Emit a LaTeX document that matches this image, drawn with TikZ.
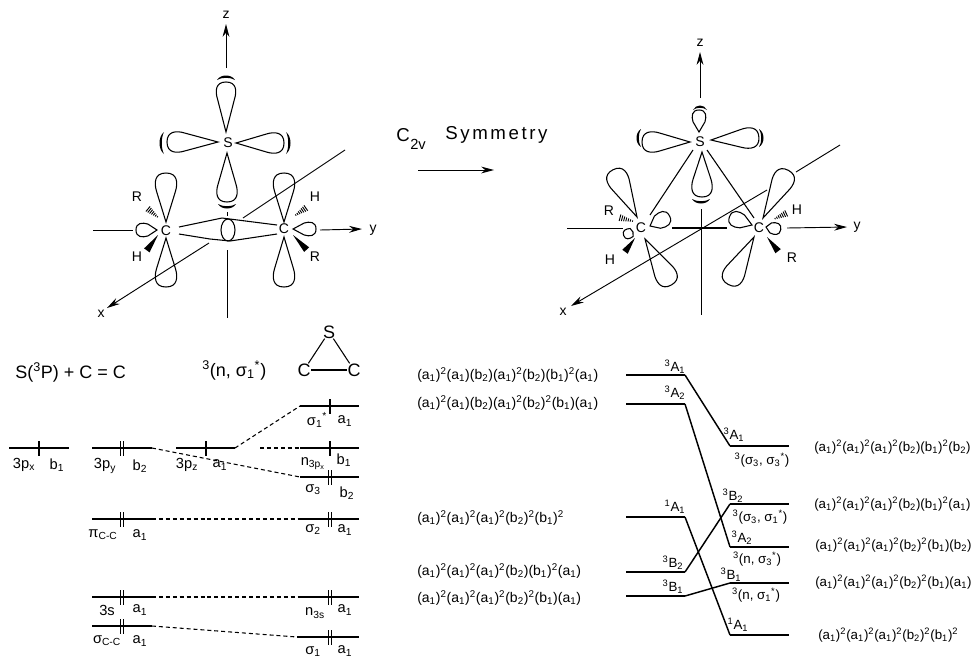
\documentclass[tikz,border=0pt]{standalone}
\usepackage{fontspec}
\setmainfont{Liberation Sans}
\newfontfamily\widefont[LetterSpace=14]{Liberation Sans}
\usetikzlibrary{arrows.meta, calc}

\newcommand{\lo}[1]{\textsubscript{#1}}
\newcommand{\hi}[1]{\textsuperscript{#1}}
% at, angle, length, half width
\newcommand{\lobe}[4]{\draw[orbital, shift={#1}, rotate=#2] (0,0) -- ({#3-1.7*#4},{.85*#4})
  .. controls ({#3-.9*#4},{1.1*#4}) and (#3,{1.05*#4}) .. (#3,0)
  .. controls (#3,{-1.05*#4}) and ({#3-.9*#4},{-1.1*#4}) .. ({#3-1.7*#4},{-.85*#4}) -- cycle;}
% at, angle, half width
\newcommand{\lobecap}[3]{\fill[shift={#1}, rotate=#2] (-2,#3) .. controls (4,{.6*#3}) and (4,{-.6*#3}) .. (-2,-#3)
  .. controls (1,{-.5*#3}) and (1,{.5*#3}) .. cycle;}
% at, angle, length
\newcommand{\solidbond}[3]{\fill[shift={#1}, rotate=#2] (0,0) -- (#3,3.4) -- (#3,-3.4) -- cycle;}
\newcommand{\hashbond}[3]{\foreach \t in {.2,.32,...,1.01}{\draw[line width=.7pt, shift={#1}, rotate=#2] ({\t*#3},{-\t*3.6}) -- ({\t*#3},{\t*3.6});}}
% name, x1, x2, y
\newcommand{\level}[4]{\coordinate (#1-l) at (#2,#4); \coordinate (#1-r) at (#3,#4); \draw[levelline] (#1-l) -- (#1-r);}
\newcommand{\spinone}[2]{\draw[line width=.9pt] (#1,#2-7) -- (#1,#2+8);}
\newcommand{\spintwo}[2]{\spinone{#1-1.7}{#2}\spinone{#1+1.7}{#2}}

\tikzset{
  orbital/.style={line width=.8pt},
  axisline/.style={line width=.7pt},
  tipped/.style={axisline, -{Stealth[length=3.4mm, width=1.8mm]}},
  levelline/.style={line width=1.4pt},
  corrline/.style={line width=1.1pt},
  dashlink/.style={line width=.8pt, dashed, dash pattern=on 3pt off 2.2pt},
  atomlab/.style={inner sep=0pt, font=\fontsize{10.5}{11}\selectfont},
  orblab/.style={inner sep=0pt, font=\fontsize{11}{12}\selectfont},
  cfglab/.style={inner sep=0pt, anchor=west, font=\fontsize{10.5}{12}\selectfont},
  cfgright/.style={cfglab, font=\fontsize{10}{12}\selectfont},
  statelab/.style={inner sep=0pt, font=\fontsize{10}{11}\selectfont},
  titlelab/.style={inner sep=0pt, font=\fontsize{13.5}{15}\selectfont},
}

\begin{document}
\begin{tikzpicture}[x=.75pt, y=-.75pt, >=Stealth]
\useasboundingbox (0,0) rectangle (973,658);

% ---- Left molecule: separated fragments --------------------------------
\draw[tipped] (226,68) -- (226,24);
\node[atomlab] (zA) at (226,15) {z};
\draw[axisline] (227,250) -- (227,318);
\draw[axisline] (227,212) -- (227,216);
\draw[axisline] (93,230) -- (133,230);
\draw[tipped] (320,230) -- (362,229);
\node[atomlab] (yA) at (373,230) {y};
\draw[axisline] (345,150) -- (243,218);
\draw[tipped] (209,243) -- (107,308);
\node[atomlab] (xA) at (101,314) {x};

\node[atomlab] (sA) at (228,143) {S};
\lobe{(226,132)}{90}{50}{10}
\lobe{(218,142)}{180}{51}{10.5}
\lobe{(236,143)}{0}{48}{10.5}
\lobe{(227,153)}{-90}{49}{10.5}
\lobecap{(226,78)}{90}{9}
\lobecap{(162,143)}{180}{11}
\lobecap{(288,143)}{0}{11}
\lobecap{(227,206)}{-90}{9}

\node[atomlab] (cA) at (166,231) {C};
\node[atomlab] (cB) at (284,229) {C};
\lobe{(166,222)}{90}{49}{11}
\lobe{(166,238)}{-90}{49}{11}
\lobe{(157,230)}{180}{21}{7}
\lobe{(284,222)}{90}{49}{11}
\lobe{(284,237)}{-90}{50}{11}
\lobe{(293,229)}{0}{23}{7}
\draw[orbital] (179,227) -- (222,218) -- (277,225);
\draw[orbital] (179,234) -- (210,239) -- (230,241) -- (277,234);
\draw[orbital] (228,230) ellipse (7 and 11);

\hashbond{(160,219)}{140}{17}
\solidbond{(158,235)}{234}{19}
\hashbond{(293,217)}{35}{17}
\solidbond{(293,235)}{-47}{20}
\node[atomlab] (rA) at (137,197) {R};
\node[atomlab] (hA) at (137,257) {H};
\node[atomlab] (hB) at (315,197) {H};
\node[atomlab] (rB) at (315,257) {R};

% ---- Arrow between the molecules ----------------------------------------
\node[inner sep=0pt, anchor=west, font=\fontsize{14}{15}\selectfont] (symmC) at (396,135) {C};
\node[inner sep=0pt, anchor=west, font=\fontsize{11}{12}\selectfont] (symmV) at (410,144) {2v};
\node[inner sep=0pt, anchor=west, font=\fontsize{14}{15}\selectfont\widefont] (symm) at (445,135) {Symmetry};
\coordinate (symmA) at (418,170);
\coordinate (symmB) at (494,170);
\draw[tipped] (symmA) -- (symmB);

% ---- Right molecule: thiirane -------------------------------------------
\draw[tipped] (700,98) -- (700,52);
\node[atomlab] (zB) at (700,43) {z};
\draw[axisline] (701,209) -- (701,315);
\draw[axisline] (567,228) -- (623,228);
\draw[line width=1.2pt] (672,228) -- (727,228);
\draw[tipped] (787,228) -- (847,227);
\node[atomlab] (yB) at (857,227) {y};
\draw[axisline] (840,145) -- (796,172);
\draw[tipped] (767,190) -- (571,306);
\node[atomlab] (xB) at (563,312) {x};

\node[atomlab] (sB) at (700,142) {S};
\lobe{(699,132)}{90}{22}{7}
\lobe{(690,142)}{180}{48}{10.5}
\lobe{(711,140)}{3}{48}{10.5}
\lobe{(702,152)}{-90}{45}{10.5}
\lobecap{(700,108)}{90}{7}
\lobecap{(639,138)}{180}{9}
\lobecap{(761,138)}{0}{9}
\lobecap{(701,201)}{-90}{9}

\node[atomlab] (cC) at (641,228) {C};
\node[atomlab] (cD) at (759,228) {C};
\draw[orbital] (693,150) -- (650,215);
\draw[orbital] (707,150) -- (754,218);
\lobe{(637,217)}{117}{53}{11}
\lobe{(645,239)}{-60}{53}{11}
\lobe{(650,226)}{27}{22}{8}
\lobe{(633,232)}{200}{10}{5}
\lobe{(763,218)}{62}{54}{11}
\lobe{(754,237)}{241.5}{54}{11}
\lobe{(752,225)}{160}{24}{8}
\lobe{(766,227)}{-10}{15}{6}

\hashbond{(636,222)}{165}{18}
\solidbond{(635,238)}{234}{17}
\hashbond{(772,220)}{25}{17}
\solidbond{(767,237)}{-52}{18}
\node[atomlab] (rC) at (609,211) {R};
\node[atomlab] (hC) at (610,260) {H};
\node[atomlab] (hD) at (797,210) {H};
\node[atomlab] (rD) at (792,258) {R};

% ---- Orbital levels, titles ---------------------------------------------
\node[titlelab, anchor=west] (frag) at (15,372) {S(\hi{3}P) + C = C};
\node[titlelab, anchor=west] (conf) at (202,370) {\hi{3}(n, σ\lo{1}\hi{*})};
\node[titlelab] (sT) at (329,332) {S};
\node[titlelab] (cTa) at (304,370) {C};
\node[titlelab] (cTb) at (354,370) {C};
\draw[orbital] (sT) -- (cTa);
\draw[orbital] (sT) -- (cTb);
\draw[orbital] (cTa) -- (cTb);

% ---- Orbital levels ------------------------------------------------------
\level{px}{9}{69}{448}
\level{py}{92}{152}{448}
\level{pz}{176}{235}{448}
\level{pi}{92}{152}{519}
\level{ss}{92}{152}{597}
\level{cc}{92}{152}{626}
\level{sa}{300}{359}{406}
\level{nx}{300}{359}{448}
\level{st}{300}{359}{477}
\level{sb}{300}{359}{519}
\level{ns}{300}{359}{597}
\level{so}{297}{359}{637}

\spinone{39}{448}
\spintwo{122}{448}
\spinone{206}{448}
\spintwo{122}{519}
\spintwo{122}{597}
\spintwo{122}{626}
\spinone{330}{406}
\spinone{330}{448}
\spintwo{330}{477}
\spintwo{330}{519}
\spintwo{330}{597}
\spintwo{330}{637}

\coordinate (nxfree) at (260,448);
\draw[dashlink] (py-r) -- (st-l);
\draw[dashlink] (pz-r) -- (sa-l);
\draw[dashlink] (nxfree) -- (nx-l);
\draw[dashlink] (pi-r) -- (sb-l);
\draw[dashlink] (ss-r) -- (ns-l);
\draw[dashlink] (cc-r) -- (so-l);

\foreach \nm/\x/\y/\txt in {
  lpx/24/465/{3p\lo{x}}, lpxs/57/465/{b\lo{1}},
  lpy/105/466/{3p\lo{y}}, lpys/140/466/{b\lo{2}},
  lpz/187/465/{3p\lo{z}}, lpzs/220/465/{a\lo{1}},
  lpi/103/535/{π\lo{C-C}}, lpis/140/535/{a\lo{1}},
  lss/107/610/{3s}, lsss/140/610/{a\lo{1}},
  lcc/107/641/{σ\lo{C-C}}, lccs/140/641/{a\lo{1}},
  lsa/317/420/{σ\lo{1}\hi{*}}, lsas/345/421/{a\lo{1}},
  lnx/313/464/{n\lo{3p\lo{x}}}, lnxs/344/460/{b\lo{1}},
  lst/313/490/{σ\lo{3}}, lsts/347/493/{b\lo{2}},
  lsb/313/530/{σ\lo{2}}, lsbs/345/530/{a\lo{1}},
  lns/315/613/{n\lo{3s}}, lnss/345/610/{a\lo{1}},
  lso/313/652/{σ\lo{1}}, lsos/345/651/{a\lo{1}}}
  {\node[orblab] (\nm) at (\x,\y) {\txt};}

% ---- Configurations, left column ---------------------------------------
\foreach \nm/\y/\txt in {
  ca/375/{(a\lo1)\hi2(a\lo1)(b\lo2)(a\lo1)\hi2(b\lo2)(b\lo1)\hi2(a\lo1)},
  cb/403/{(a\lo1)\hi2(a\lo1)(b\lo2)(a\lo1)\hi2(b\lo2)\hi2(b\lo1)(a\lo1)},
  cc/518/{(a\lo1)\hi2(a\lo1)\hi2(a\lo1)\hi2(b\lo2)\hi2(b\lo1)\hi2},
  cd/571/{(a\lo1)\hi2(a\lo1)\hi2(a\lo1)\hi2(b\lo2)(b\lo1)\hi2(a\lo1)},
  ce/598/{(a\lo1)\hi2(a\lo1)\hi2(a\lo1)\hi2(b\lo2)\hi2(b\lo1)(a\lo1)}}
  {\node[cfglab] (\nm) at (417,\y) {\txt};}

% ---- Configurations, right column --------------------------------------
\foreach \nm/\x/\y/\txt in {
  cf/814/447/{(a\lo1)\hi2(a\lo1)\hi2(a\lo1)\hi2(b\lo2)(b\lo1)\hi2(b\lo2)},
  cg/814/504/{(a\lo1)\hi2(a\lo1)\hi2(a\lo1)\hi2(b\lo2)(b\lo1)\hi2(a\lo1)},
  ch/815/545/{(a\lo1)\hi2(a\lo1)\hi2(a\lo1)\hi2(b\lo2)\hi2(b\lo1)(b\lo2)},
  ci/815/582/{(a\lo1)\hi2(a\lo1)\hi2(a\lo1)\hi2(b\lo2)\hi2(b\lo1)(a\lo1)},
  cj/818/635/{(a\lo1)\hi2(a\lo1)\hi2(a\lo1)\hi2(b\lo2)\hi2(b\lo1)\hi2}}
  {\node[cfgright] (\nm) at (\x,\y) {\txt};}

% ---- State correlation ---------------------------------------------------
\level{la}{626}{685}{375}
\level{lb}{626}{685}{404}
\level{lc}{626}{685}{517}
\level{ld}{626}{685}{572}
\level{le}{626}{685}{596}
\level{ra}{730}{789}{446}
\level{rb}{730}{789}{504}
\level{rc}{730}{789}{547}
\level{rd}{730}{789}{583}
\level{re}{730}{789}{635}
\draw[corrline] (la-r) -- (ra-l);
\draw[corrline] (lb-r) -- (rc-l);
\draw[corrline] (lc-r) -- (re-l);
\draw[corrline] (ld-r) -- (rb-l);
\draw[corrline] (le-r) -- (rd-l);

\foreach \nm/\x/\y/\txt in {
  sla/675/367/{\hi3A\lo1}, slb/675/393/{\hi3A\lo2}, slc/675/507/{\hi1A\lo1},
  sld/673/563/{\hi3B\lo2}, sle/673/587/{\hi3B\lo1},
  sra/734/435/{\hi3A\lo1}, srb/733/496/{\hi3B\lo2}, src/742/538/{\hi3A\lo2},
  srd/731/575/{\hi3B\lo1}, sre/738/625/{\hi1A\lo1},
  tra/762/460/{\hi3(σ\lo3, σ\lo3\hi*)}, trb/760/517/{\hi3(σ\lo3, σ\lo1\hi*)},
  trc/757/559/{\hi3(n, σ\lo3\hi*)}, trd/756/595/{\hi3(n, σ\lo1\hi*)}}
  {\node[statelab] (\nm) at (\x,\y) {\txt};}

\end{tikzpicture}
\end{document}
